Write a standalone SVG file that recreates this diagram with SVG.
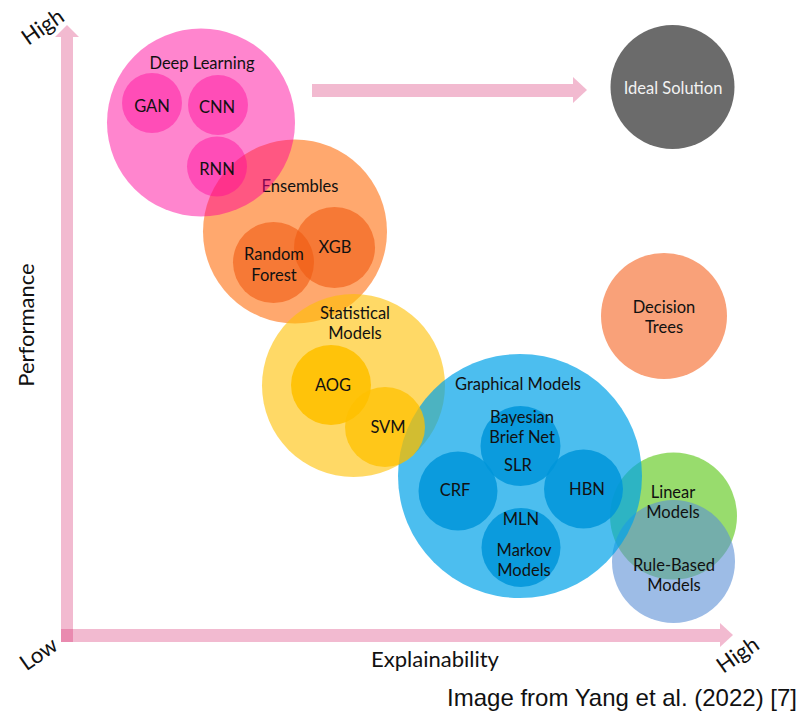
<svg xmlns="http://www.w3.org/2000/svg" width="809" height="713" viewBox="0 0 809 713">
<style>
text{font-family:Lato,Carlito,"Liberation Sans",sans-serif;fill:#111;text-anchor:middle}
.lbl{font-size:16.5px}
.ax{font-size:22px}
.cap{font-family:"Liberation Sans",Arial,sans-serif;font-size:24px;text-anchor:end}
.arr{fill:#d41962;fill-opacity:0.3}
.dl{fill:#ff0099;fill-opacity:0.48}
.dli{fill:#ff0099;fill-opacity:0.42}
.en{fill:#ff6600;fill-opacity:0.57}
.eni{fill:#f05a10;fill-opacity:0.6}
.st{fill:#ffc000;fill-opacity:0.6}
.sti{fill:#ffc000;fill-opacity:0.9}
.sv{fill:#ffc000;fill-opacity:0.75}
.gr{fill:#00a2e8;fill-opacity:0.7}
.gri{fill:#0095d9;fill-opacity:0.85}
</style>
<rect width="809" height="713" fill="#fff"/>
<g id="axes">
<rect class="arr" x="61" y="37" width="12" height="605"/>
<polygon class="arr" points="55,37 79,37 67,25"/>
<rect class="arr" x="61" y="629" width="659" height="13"/>
<polygon class="arr" points="720,623 720,647 733,635"/>
<text class="ax" transform="translate(34,325) rotate(-90)">Performance</text>
<text class="ax" x="435" y="667">Explainability</text>
<text class="ax" font-size="19" transform="translate(47,33) rotate(-35)">High</text>
<text class="ax" font-size="20" transform="translate(43,660) rotate(-35)">Low</text>
<text class="ax" font-size="20" transform="translate(742,661) rotate(-35)">High</text>
</g>
<g id="decision-trees">
<circle cx="664" cy="316" r="63" fill="#f9a179"/>
<text class="lbl" x="664" y="313">Decision</text>
<text class="lbl" x="664" y="333">Trees</text>
</g>
<g id="ideal-solution">
<circle cx="672.5" cy="87" r="62" fill="#6b6b6b"/>
<text class="lbl" x="673" y="94" style="fill:#f2f2f2">Ideal Solution</text>
</g>
<g id="linear-models">
<circle cx="673.5" cy="516" r="63.5" fill="#7ed348" fill-opacity="0.8"/>
</g>
<g id="rule-based-models">
<circle cx="673.5" cy="561.5" r="61.5" fill="#5b8fd6" fill-opacity="0.6"/>
</g>
<g id="ensembles">
<circle class="en" cx="295" cy="231.5" r="92"/>
<text class="lbl" x="300" y="192">Ensembles</text>
</g>
<g id="random-forest">
<circle class="eni" cx="273.5" cy="262.5" r="40.5"/>
</g>
<g id="xgb">
<circle class="eni" cx="334.5" cy="247.5" r="40.5"/>
</g>
<g id="deep-learning">
<circle class="dl" cx="201" cy="122.5" r="94"/>
<text class="lbl" x="202" y="69">Deep Learning</text>
</g>
<g id="gan">
<circle class="dli" cx="152" cy="103" r="30"/>
<text class="lbl" x="152" y="112">GAN</text>
</g>
<g id="cnn">
<circle class="dli" cx="218" cy="105" r="30"/>
<text class="lbl" x="217" y="113">CNN</text>
</g>
<g id="rnn">
<circle class="dli" cx="217" cy="166.5" r="30"/>
<text class="lbl" x="217" y="175">RNN</text>
</g>
<g id="statistical-models">
<circle class="st" cx="353.5" cy="385.5" r="91.5"/>
<text class="lbl" x="355" y="319">Statistical</text>
<text class="lbl" x="355" y="339">Models</text>
</g>
<g id="aog">
<circle class="sti" cx="331" cy="385" r="40"/>
<text class="lbl" x="333" y="391">AOG</text>
</g>
<g id="graphical-models">
<circle class="gr" cx="520" cy="476" r="122"/>
<text class="lbl" x="518" y="390">Graphical Models</text>
</g>
<g id="bayesian-brief-net">
<circle class="gri" cx="520.5" cy="446" r="40"/>
</g>
<g id="crf">
<circle class="gri" cx="458" cy="491" r="39.5"/>
<text class="lbl" x="455" y="496">CRF</text>
</g>
<g id="hbn">
<circle class="gri" cx="583.5" cy="489" r="39.5"/>
<text class="lbl" x="587" y="495">HBN</text>
</g>
<g id="markov-models">
<circle class="gri" cx="521" cy="547.5" r="39.5"/>
<text class="lbl" x="524" y="556">Markov</text>
<text class="lbl" x="524" y="576">Models</text>
</g>
<g id="bayesian-labels">
<text class="lbl" x="522" y="423">Bayesian</text>
<text class="lbl" x="522" y="443">Brief Net</text>
</g>
<g id="slr">
<text class="lbl" x="518" y="471">SLR</text>
</g>
<g id="mln">
<text class="lbl" x="521" y="525">MLN</text>
</g>
<g id="svm">
<circle class="sv" cx="385" cy="427" r="40"/>
<text class="lbl" x="388" y="433">SVM</text>
</g>
<g id="random-forest-label">
<text class="lbl" x="274" y="260">Random</text>
<text class="lbl" x="274" y="281">Forest</text>
</g>
<g id="xgb-label">
<text class="lbl" x="335" y="253">XGB</text>
</g>
<g id="linear-label">
<text class="lbl" x="673" y="498">Linear</text>
<text class="lbl" x="673" y="518">Models</text>
</g>
<g id="rule-label">
<text class="lbl" x="674" y="571">Rule-Based</text>
<text class="lbl" x="674" y="591">Models</text>
</g>
<g id="connectors">
<rect class="arr" x="312" y="84" width="261" height="13"/>
<polygon class="arr" points="573,77 573,103 587,90"/>
</g>
<text class="cap" x="797" y="706">Image from Yang et al. (2022) [7]</text>
</svg>
